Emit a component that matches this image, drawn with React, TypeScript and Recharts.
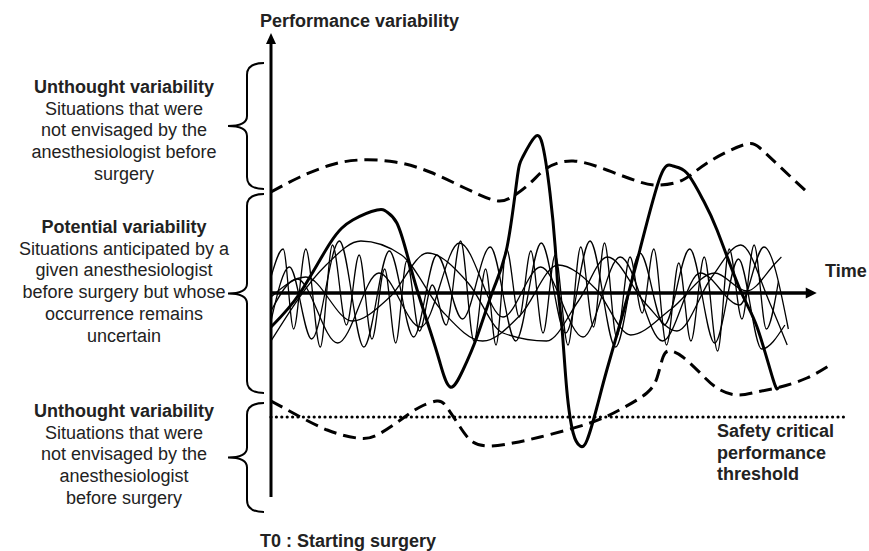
import {
  LineChart,
  Line,
  XAxis,
  YAxis,
  ReferenceLine,
  ReferenceDot,
} from "recharts";

// time (0 = start of surgery) / performance (0 = nominal) pairs
const UPPER_LIMIT: [number, number][] = [
  [0, 5.05], [5.0, 5.8], [10.3, 6.4], [15.3, 6.65], [21.4, 6.55], [27.4, 6.05],
  [33.4, 5.25], [38.3, 4.65], [41.2, 4.75], [44.7, 5.5], [47.6, 6.25], [52.1, 6.6],
  [57.9, 6.15], [63.6, 5.55], [67.1, 5.4], [71.0, 5.65], [75.2, 6.5], [81.4, 7.4],
  [84.3, 7.25], [87.8, 6.3], [92.4, 5.05],
];

const LOWER_LIMIT: [number, number][] = [
  [0, -5.4], [3.8, -6.0], [9.7, -6.85], [14.8, -7.25], [18.3, -7.1], [22.8, -6.25],
  [25.7, -5.7], [28.6, -5.4], [30.3, -5.7], [32.6, -6.7], [34.8, -7.45], [37.8, -7.65],
  [41.7, -7.5], [46.4, -7.2], [55.0, -6.5], [60.7, -5.75], [64.8, -5.0], [66.6, -4.2],
  [67.6, -3.2], [68.8, -2.9], [71.0, -3.2], [74.0, -4.0], [76.9, -4.75], [80.3, -5.1],
  [83.8, -4.95], [87.8, -4.7], [92.4, -4.25], [96.4, -3.6],
];

const ACTUAL: [number, number][] = [
  [0, -1.7], [5.0, 0], [10.2, 2.5], [14.1, 3.65], [18.3, 4.15], [20.0, 4.05],
  [21.7, 3.5], [23.4, 2.0], [25.2, 0.15], [27.4, -1.85], [29.1, -3.45], [30.9, -4.7],
  [33.1, -3.85], [35.5, -2.2], [38.3, 0.15], [40.7, 2.3], [42.4, 5.65], [43.4, 6.8],
  [45.5, 7.8], [46.9, 7.3], [48.1, 5.0], [49.0, 2.3], [49.5, 0.15], [50.2, -1.85],
  [51.0, -4.85], [52.1, -7.0], [53.3, -7.65], [54.5, -7.35], [56.2, -5.7], [57.9, -3.85],
  [60.7, -1.0], [63.6, 2.15], [67.1, 5.8], [69.3, 6.35], [71.7, 6.0], [74.5, 4.65],
  [76.9, 3.15], [80.9, 0.15], [83.8, -1.7], [86.6, -4.35], [87.4, -4.7],
];

const POTENTIAL_A: [number, number][] = [
  [0, 0.8], [2.1, 2.2], [3.9, -1.8], [6.0, 2.2], [8.5, -2.7], [10.6, 2.4], [13.0, -1.6],
  [15.2, 1.9], [17.4, -2.3], [19.6, 1.2], [21.5, -2.5], [23.4, 1.6], [25.6, -1.9],
  [27.8, 0.4], [30.2, -1.6], [32.7, 2.6], [35.0, -2.4], [37.0, 1.2], [38.8, -2.6],
  [40.6, 2.2], [42.8, -1.2], [44.8, 2.1], [46.9, -2.0], [49.0, 1.9], [51.2, -2.6],
  [53.4, 2.3], [55.6, -1.7], [57.5, 2.5], [59.6, -2.2], [61.9, 1.8], [64.0, -1.0],
  [66.0, 2.2], [68.2, -2.6], [70.3, 1.5], [72.4, -2.4], [74.7, 1.8], [77.0, -2.9],
  [79.0, 2.2], [81.2, -1.3], [83.3, 2.4], [85.4, -1.8], [87.5, 0.6],
];

const POTENTIAL_B: [number, number][] = [
  [0, -1.4], [3.2, 1.3], [7.0, -2.3], [11.8, 2.6], [16.0, -2.7], [20.4, 2.1], [24.6, -2.2],
  [28.6, 1.9], [33.0, -1.3], [37.8, 2.3], [42.2, -2.4], [46.6, 2.5], [50.8, -2.0],
  [55.0, 2.6], [59.4, -2.7], [63.6, 2.0], [67.8, -1.6], [72.2, 2.2], [76.5, -2.5],
  [80.6, 1.7], [84.6, -2.8], [88.6, -1.6],
];

const POTENTIAL_C: [number, number][] = [
  [0, -0.9], [4.5, 0.7], [11.5, -2.5], [18.6, 1.0], [25.8, -1.7], [32.5, 2.5], [40.0, -1.2],
  [46.5, 1.3], [53.8, -2.2], [60.2, 1.8], [67.5, -2.4], [74.0, 1.0], [80.8, -0.6],
  [85.0, 2.3], [89.2, -1.8],
];

const POTENTIAL_D: [number, number][] = [
  [0, -2.4], [9.5, 1.4], [15.5, 2.6], [22.5, 1.9], [29.5, -0.9], [36.5, -2.4], [43.0, -1.1],
  [49.5, 1.4], [56.0, 0.2], [62.0, -2.1], [69.0, -0.8], [76.5, 1.0], [82.0, 0.1],
  [87.0, 1.5], [88.0, 1.8],
];

const POTENTIAL_E: [number, number][] = [
  [0, -0.2], [6, 0.8], [14, -1.4], [20.5, -0.2], [27, 2.0], [34, 0.5], [40, -2.0],
  [47.5, -2.4], [53, -0.4], [58, 1.8], [64.5, -0.5], [70, -1.9], [76, 0.8], [81, 2.4],
  [86, -0.5], [89, -2.6],
];

const THRESHOLD = -6.2;
const T_MAX = 100;
const P_MIN = -10.2;
const P_MAX = 13;
const TIME_ARROW_END = 94.1;
const THRESHOLD_END = 99;

const LEFT_BLOCKS = [
  { top: 77, lines: ["Unthought variability", "Situations that were", "not envisaged by the", "anesthesiologist before", "surgery"] },
  { top: 217, lines: ["Potential variability", "Situations anticipated by a", "given anesthesiologist", "before surgery but whose", "occurrence remains", "uncertain"] },
  { top: 401, lines: ["Unthought variability", "Situations that were", "not envisaged by the", "anesthesiologist", "before surgery"] },
];

// brace spans on the left (top, bottom) in px
const BRACES: [number, number][] = [
  [63, 189],
  [194, 393],
  [403, 512],
];

const FONT = '"Liberation Sans", Arial, sans-serif';
const TEXT = "#222";
const LH = 21.7;

const toRows = (pts: [number, number][]) => pts.map(([t, v]) => ({ t, v }));

function bracePath(y0: number, y1: number) {
  const x0 = 264;
  const xm = 247;
  const xt = 228;
  const mid = (y0 + y1) / 2;
  return `M ${x0} ${y0} Q ${xm} ${y0} ${xm} ${y0 + 12} L ${xm} ${mid - 10} Q ${xm} ${mid} ${xt} ${mid} Q ${xm} ${mid} ${xm} ${mid + 10} L ${xm} ${y1 - 12} Q ${xm} ${y1} ${x0} ${y1}`;
}

const upArrow = (p: any) => (
  <polygon points={`${p.cx},${p.cy} ${p.cx - 5},${p.cy + 11} ${p.cx + 5},${p.cy + 11}`} fill="#000" />
);
const rightArrow = (p: any) => (
  <polygon points={`${p.cx},${p.cy} ${p.cx - 11},${p.cy - 5.5} ${p.cx - 11},${p.cy + 5.5}`} fill="#000" />
);

export default function App() {
  const thin = [POTENTIAL_A, POTENTIAL_B, POTENTIAL_C, POTENTIAL_D, POTENTIAL_E];

  return (
    <div style={{ position: "relative", width: 869, height: 551, overflow: "hidden", background: "#fff", fontFamily: FONT, color: TEXT }}>
      <style>{`body{margin:0}`}</style>
      <LineChart width={869} height={551} margin={{ top: 33, right: 18, bottom: 54, left: 271 }}>
        <XAxis type="number" dataKey="t" domain={[0, T_MAX]} hide allowDataOverflow />
        <YAxis type="number" dataKey="v" domain={[P_MIN, P_MAX]} hide allowDataOverflow />

        <ReferenceLine
          segment={[{ x: 0, y: THRESHOLD }, { x: THRESHOLD_END, y: THRESHOLD }]}
          stroke="#000"
          strokeWidth={3.2}
          strokeDasharray="0 5.4"
          strokeLinecap="round"
        />

        <Line data={toRows(UPPER_LIMIT)} dataKey="v" type="natural" stroke="#000" strokeWidth={3} strokeDasharray="13 7" dot={false} activeDot={false} isAnimationActive={false} />
        <Line data={toRows(LOWER_LIMIT)} dataKey="v" type="natural" stroke="#000" strokeWidth={3} strokeDasharray="13 7" dot={false} activeDot={false} isAnimationActive={false} />

        {thin.map((s, i) => (
          <Line key={i} data={toRows(s)} dataKey="v" type="monotone" stroke="#000" strokeWidth={1.3} dot={false} activeDot={false} isAnimationActive={false} />
        ))}

        <Line data={toRows(ACTUAL)} dataKey="v" type="natural" stroke="#000" strokeWidth={3} dot={false} activeDot={false} isAnimationActive={false} />

        {/* axes with arrow heads */}
        <ReferenceLine segment={[{ x: 0, y: 0 }, { x: TIME_ARROW_END - 1.5, y: 0 }]} stroke="#000" strokeWidth={3.5} />
        <ReferenceLine segment={[{ x: 0, y: P_MIN }, { x: 0, y: P_MAX - 0.4 }]} stroke="#000" strokeWidth={3} />
        <ReferenceDot x={TIME_ARROW_END} y={0} shape={rightArrow} />
        <ReferenceDot x={0} y={P_MAX} shape={upArrow} />
      </LineChart>

      <svg width={869} height={551} style={{ position: "absolute", left: 0, top: 0, pointerEvents: "none" }}>
        {BRACES.map(([a, b], i) => (
          <path key={i} d={bracePath(a, b)} fill="none" stroke="#000" strokeWidth={2} />
        ))}
      </svg>

      {LEFT_BLOCKS.map((b, i) => (
        <div key={i} style={{ position: "absolute", left: 0, top: b.top, width: 248, textAlign: "center", fontSize: 18, lineHeight: `${LH}px` }}>
          {b.lines.map((l, j) => (
            <div key={j} style={{ fontWeight: j === 0 ? "bold" : "normal", whiteSpace: "nowrap" }}>{l}</div>
          ))}
        </div>
      ))}

      <div style={{ position: "absolute", left: 260, top: 11, fontSize: 18, fontWeight: "bold", lineHeight: `${LH}px`, whiteSpace: "nowrap" }}>
        Performance variability
      </div>
      <div style={{ position: "absolute", left: 825, top: 261, fontSize: 18, fontWeight: "bold", lineHeight: `${LH}px` }}>Time</div>
      <div style={{ position: "absolute", left: 717, top: 421, fontSize: 18, fontWeight: "bold", lineHeight: `${LH}px`, whiteSpace: "nowrap" }}>
        <div>Safety critical</div>
        <div>performance</div>
        <div>threshold</div>
      </div>
      <div style={{ position: "absolute", left: 260, top: 531, fontSize: 18, fontWeight: "bold", lineHeight: `${LH}px`, whiteSpace: "nowrap" }}>
        T0 : Starting surgery
      </div>
    </div>
  );
}
